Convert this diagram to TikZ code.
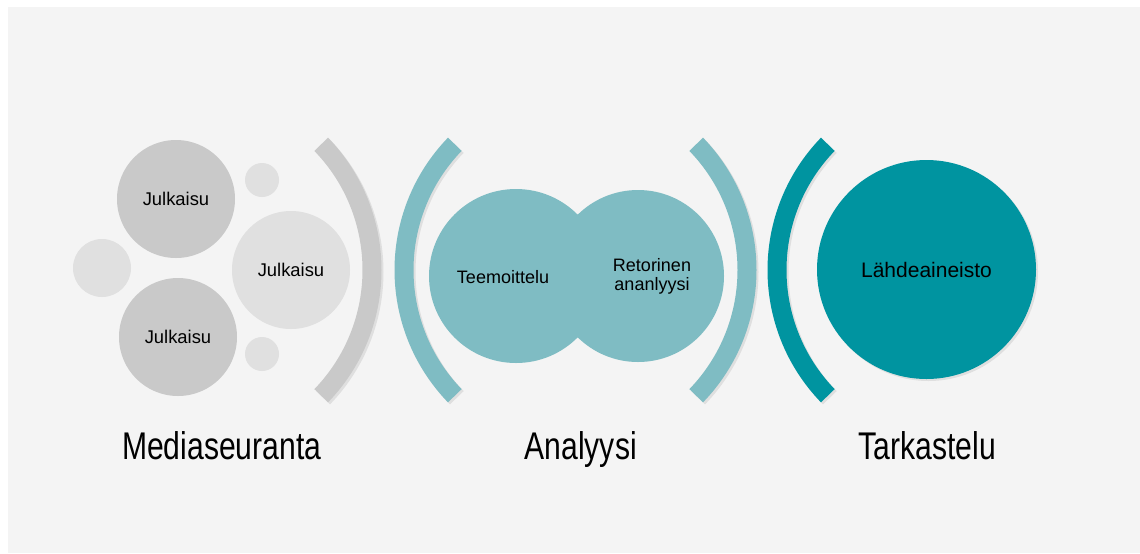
\documentclass[tikz,border=0pt]{standalone}
\usepackage{fontspec}
\setmainfont{Liberation Sans}
\newfontfamily\bigfont[FakeStretch=0.78]{Liberation Sans}
\usetikzlibrary{shadows}

\definecolor{bggray}{HTML}{F4F4F4}
\definecolor{midgray}{HTML}{C9C9C9}
\definecolor{ltgray}{HTML}{E0E0E0}
\definecolor{paleteal}{HTML}{7FBCC3}
\definecolor{deepteal}{HTML}{0094A0}

% thick bracket: centre x, centre y, start angle, colour
\newcommand{\bracket}[4]{%
  \fill[#4, shade] (#1,#2) ++(#3:190.5) arc[start angle=#3, delta angle=88, radius=190.5]
    -- ++(#3+268:19) arc[start angle=#3+88, delta angle=-88, radius=171.5] -- cycle;}

\begin{document}
\begin{tikzpicture}[x=0.5pt, y=0.5pt,
  ball/.style={circle, inner sep=0pt, outer sep=0pt},
  small/.style={font=\fontsize{9.2}{9.6}\selectfont, align=center},
  heading/.style={anchor=base, font=\bigfont\fontsize{19.3}{22}\selectfont},
  shade/.style={drop shadow={shadow xshift=1pt, shadow yshift=-1pt, opacity=0.18}}]

  \useasboundingbox (0,0) rectangle (1140,-553);
  \fill[bggray] (8,-7) rectangle (1140,-553);

  % publications
  \node[ball, fill=ltgray, minimum size=29pt] (dotl) at (102,-268) {};
  \node[ball, fill=ltgray, minimum size=17pt] (dott) at (262,-180) {};
  \node[ball, fill=ltgray, minimum size=17pt] (dotb) at (262,-354) {};
  \node[ball, small, fill=midgray, minimum size=59pt] (pub1) at (176,-199) {Julkaisu};
  \node[ball, small, fill=midgray, minimum size=59pt] (pub3) at (178,-337) {Julkaisu};
  \node[ball, small, fill=ltgray, minimum size=59pt] (pub2) at (291,-270) {Julkaisu};

  % brackets
  \bracket{191}{-270}{-44}{midgray}
  \bracket{585}{-270}{136}{paleteal}
  \bracket{566}{-270}{-44}{paleteal}
  \bracket{958}{-270}{136}{deepteal}

  % analysis
  \node[ball, fill=paleteal, minimum size=87pt] (teema) at (516,-276) {};
  \node[ball, fill=paleteal, minimum size=86pt] (retor) at (638,-276) {};
  \node[small, font=\fontsize{9}{9.5}\selectfont] (teematxt) at (503,-277) {Teemoittelu};
  \node[small, font=\fontsize{9}{9.5}\selectfont] (retortxt) at (652,-276) {Retorinen\\ananlyysi};

  % source material
  \node[ball, fill=deepteal, minimum size=109.5pt, shade,
        font=\fontsize{10.5}{12}\selectfont] (source) at (926.5,-269.5) {L\"ahdeaineisto};

  \node[heading] (media) at (221.7,-459) {Mediaseuranta};
  \node[heading] (anal) at (580.7,-459) {Analyysi};
  \node[heading] (tark) at (927.5,-459) {Tarkastelu};
\end{tikzpicture}
\end{document}
